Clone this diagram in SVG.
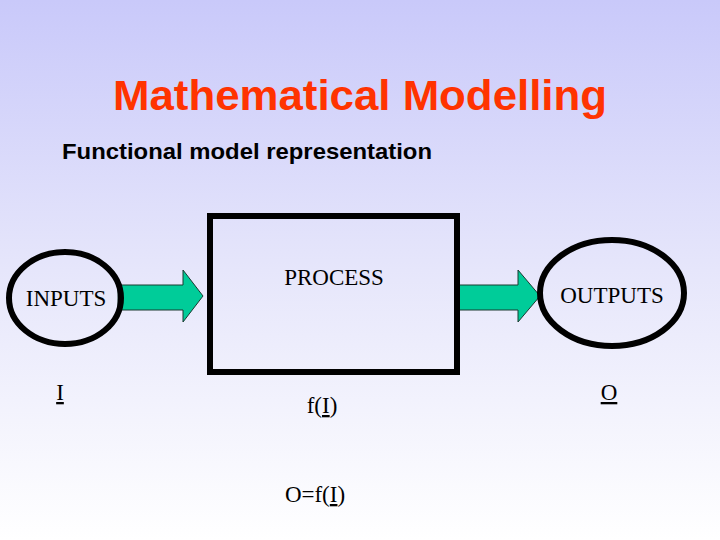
<svg xmlns="http://www.w3.org/2000/svg" width="720" height="540" viewBox="0 0 720 540">
  <defs>
    <linearGradient id="bg" x1="0" y1="0" x2="0" y2="1">
      <stop offset="0" stop-color="#c9c9fa"/>
      <stop offset="0.5" stop-color="#e6e6fb"/>
      <stop offset="1" stop-color="#ffffff"/>
    </linearGradient>
    <style>
      .title { font-family: "Liberation Sans", Arial, sans-serif; font-weight: bold; font-size: 43px; fill: #ff3300; }
      .sub { font-family: "Liberation Sans", Arial, sans-serif; font-weight: bold; font-size: 22px; fill: #000; }
      .lbl { font-family: "Liberation Serif", "Times New Roman", serif; font-size: 23px; fill: #000; }
      .shape { fill: none; stroke: #000; stroke-width: 6; }
      .arrow { fill: #00cc99; stroke: #1a3a30; stroke-width: 1; }
    </style>
  </defs>
  <rect x="0" y="0" width="720" height="540" fill="url(#bg)"/>

  <text class="title" x="360" y="110" text-anchor="middle" textLength="494" lengthAdjust="spacingAndGlyphs">Mathematical Modelling</text>
  <text class="sub" x="62" y="159" textLength="370" lengthAdjust="spacingAndGlyphs">Functional model representation</text>

  <g id="connectors">
    <polygon class="arrow" points="118,285 183,285 183,270 203,296 183,322 183,310 118,310"/>
    <polygon class="arrow" points="457,285 518,285 518,270 540,296 518,322 518,310 457,310"/>
  </g>

  <g id="inputs">
    <ellipse class="shape" cx="65" cy="298" rx="56" ry="46"/>
    <text class="lbl" x="66" y="306" text-anchor="middle">INPUTS</text>
  </g>

  <g id="process">
    <rect class="shape" x="210" y="216" width="247" height="156"/>
    <text class="lbl" x="334" y="285" text-anchor="middle">PROCESS</text>
  </g>

  <g id="outputs">
    <ellipse class="shape" cx="612" cy="293" rx="72" ry="53"/>
    <text class="lbl" x="612" y="303" text-anchor="middle">OUTPUTS</text>
  </g>

  <g id="formulas">
    <text class="lbl" x="60" y="400" text-anchor="middle"><tspan text-decoration="underline">I</tspan></text>
    <text class="lbl" x="609" y="400" text-anchor="middle"><tspan text-decoration="underline">O</tspan></text>
    <text class="lbl" x="322" y="413" text-anchor="middle">f(<tspan text-decoration="underline">I</tspan>)</text>
    <text class="lbl" x="315" y="502" text-anchor="middle">O=f(<tspan text-decoration="underline">I</tspan>)</text>
  </g>
</svg>
